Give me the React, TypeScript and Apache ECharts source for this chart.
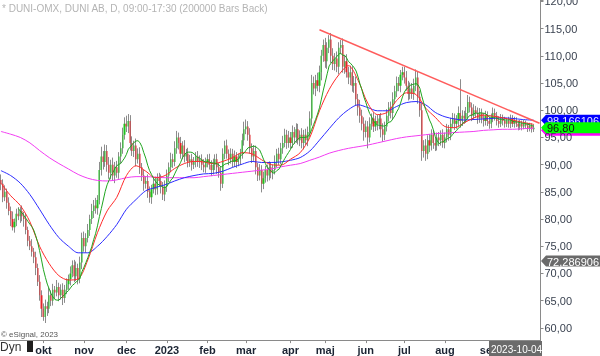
import React, { useEffect, useRef } from "react";
import * as echarts from "echarts";

// ---- daily closes per month ----
const sep22 = [86.5, 84, 85, 83, 81.5, 80, 78.5, 79.5, 81, 80.5, 81.5, 80.5, 80, 78, 76, 75, 74, 73, 71, 68.5, 66, 63.5];
const okt22 = [62, 64, 63.5, 66, 65, 67, 66.5, 67.5, 66, 67, 65.5, 67, 68, 69, 70, 71.5, 69.5, 71, 69, 72, 76.5];
const nov22 = [75, 76.5, 78, 80, 81.5, 82.5, 82, 83.5, 89, 91.5, 90.5, 92.5, 90, 88.5, 90, 88, 89.5, 88.5, 91.5, 93, 95.5, 97.5];
const dec22 = [97, 98, 94, 92.5, 93.5, 91, 92, 89.5, 88, 86.5, 87, 85, 84, 85.5, 86.5, 85.5, 87.5, 87, 86, 84.5, 86];
const jan23 = [88, 89.5, 91, 90.5, 93, 95, 94, 92, 93.5, 91.5, 92, 90.5, 91, 90, 90.5, 91.5, 90.5, 91, 90, 89.5, 90.5];
const feb23 = [91, 90, 89, 90, 91, 89.5, 88.5, 86.5, 92, 93.5, 92, 91, 92, 90.5, 91.5, 90.5, 91, 92, 94.5, 96.5];
const mar23 = [97, 95.5, 93, 91.5, 92.5, 89.5, 88, 89, 86.5, 87.5, 89, 88, 89.5, 88.5, 89, 90.5, 92, 91, 93, 94, 95.5, 94, 95];
const apr23 = [94, 96, 95, 96.5, 94.5, 95.5, 94, 95.5, 94.5, 96, 98.5, 105, 104, 105.5, 104.5, 107, 110, 112];
const maj23 = [109, 111.5, 113, 110, 108.5, 109.5, 108, 111.5, 112, 108, 109, 107, 106, 107, 104.5, 105, 102, 100.5, 99, 97.5, 96];
const jun23 = [97, 95, 97.5, 98.5, 97, 98, 97.5, 98.5, 96.5, 95.5, 97, 99, 100.5, 99.5, 102, 103.5, 105, 104.5, 106.5, 107];
const jul23 = [106, 104.5, 103, 104, 103, 104.5, 106, 102.5, 100, 92.5, 93.5, 92, 94.5, 93.5, 95.5, 94, 93.5, 95, 94.5, 95.5, 94];
const aug23 = [95, 96.5, 95.5, 97.5, 98.5, 97.5, 98, 99.5, 98, 99, 98.5, 99.5, 101.5, 100.5, 99, 100, 99.5, 98.5, 99.5, 98.5, 98, 99, 98];
const sep23 = [97.5, 98.5, 99.5, 99, 98, 97.5, 98.5, 98, 97.5, 98, 97.5, 98.5, 97.5, 98, 97.5, 97, 97.5, 97, 97.5, 97.2, 96.6];
const okt23 = [97.1, 96.5, 96.8];
const firstOpen = 87.2;

// ---- wick lengths above / below body ----
const upSep22 = [1.0, 0.8, 1.2, 0.6, 1.0, 0.8, 1.4, 0.6, 0.9, 1.2, 0.7, 1.0, 0.8, 1.1, 0.6, 0.9, 1.3, 0.7, 1.0, 0.8, 1.2, 0.9];
const dnSep22 = [1.2, 0.9, 0.7, 1.1, 0.8, 1.3, 0.6, 1.0, 0.8, 0.7, 1.2, 0.9, 1.4, 0.8, 1.0, 0.7, 0.9, 1.1, 1.3, 0.8, 1.0, 1.5];
const upOkt22 = [1.0, 1.2, 0.8, 1.4, 0.9, 1.1, 0.7, 1.3, 0.8, 1.0, 1.2, 0.9, 1.1, 0.8, 1.3, 0.9, 1.0, 1.2, 0.8, 1.1, 1.0];
const dnOkt22 = [0.7, 1.1, 1.3, 0.8, 1.0, 0.9, 1.2, 0.7, 1.1, 0.8, 1.3, 0.9, 0.8, 1.0, 1.2, 0.7, 1.1, 0.9, 1.0, 0.8, 1.2];
const upNov22 = [1.2, 0.9, 1.1, 0.8, 1.3, 1.0, 1.4, 0.9, 1.5, 1.8, 1.0, 1.2, 1.1, 1.4, 0.9, 1.3, 1.0, 1.2, 0.8, 1.1, 1.3, 1.2];
const dnNov22 = [1.0, 1.2, 0.8, 1.1, 0.9, 1.3, 1.0, 1.2, 0.8, 1.0, 1.4, 0.9, 1.3, 1.1, 1.2, 1.0, 1.4, 0.9, 1.1, 1.3, 1.0, 0.9];
const upDec22 = [1.5, 1.3, 1.1, 1.2, 0.9, 1.3, 1.0, 1.2, 0.8, 1.1, 0.9, 1.2, 1.0, 0.8, 1.1, 1.3, 0.9, 1.0, 1.2, 0.8, 1.1];
const dnDec22 = [1.0, 1.2, 1.4, 0.9, 1.1, 1.3, 0.8, 1.2, 1.0, 1.3, 0.9, 1.1, 1.0, 1.2, 0.8, 1.1, 1.0, 0.9, 1.3, 1.0, 1.2];
const upJan23 = [1.1, 0.9, 1.2, 1.0, 1.3, 1.2, 0.9, 1.1, 0.8, 1.0, 0.9, 1.1, 0.8, 1.0, 0.9, 0.8, 1.0, 0.7, 0.9, 1.0, 0.8];
const dnJan23 = [1.0, 1.2, 0.9, 1.1, 0.8, 1.0, 1.2, 0.9, 1.0, 1.1, 0.8, 1.0, 0.9, 1.1, 0.8, 1.0, 0.9, 1.1, 1.0, 0.9, 1.0];
const upFeb23 = [0.9, 1.0, 0.8, 1.1, 0.9, 1.0, 0.8, 1.2, 1.0, 0.9, 1.1, 0.8, 1.0, 0.9, 1.1, 0.8, 1.0, 0.9, 1.2, 1.4];
const dnFeb23 = [1.0, 0.9, 1.1, 0.8, 1.0, 1.2, 0.9, 1.3, 0.8, 1.0, 0.9, 1.1, 0.8, 1.0, 0.9, 1.1, 0.8, 1.0, 0.9, 1.0];
const upMar23 = [1.3, 1.0, 1.2, 0.9, 1.1, 1.0, 0.8, 1.1, 0.9, 1.2, 0.8, 1.0, 1.1, 0.9, 1.0, 1.2, 0.9, 1.1, 1.0, 1.3, 1.1, 0.9, 1.2];
const dnMar23 = [0.9, 1.1, 1.0, 1.2, 0.8, 1.3, 1.0, 0.9, 1.6, 1.0, 0.8, 1.1, 0.9, 1.0, 1.2, 0.8, 1.0, 1.1, 0.9, 1.0, 0.8, 1.1, 0.9];
const upApr23 = [1.0, 1.2, 0.9, 1.1, 1.0, 0.8, 1.2, 0.9, 1.1, 1.0, 1.3, 1.5, 1.2, 1.0, 1.4, 1.2, 1.1, 1.0];
const dnApr23 = [1.1, 0.9, 1.2, 1.0, 0.8, 1.1, 1.0, 1.2, 0.9, 1.1, 1.0, 1.3, 1.1, 1.4, 1.0, 1.2, 1.5, 1.1];
const upMaj23 = [1.3, 1.0, 0.8, 1.2, 1.4, 1.0, 1.3, 1.0, 0.9, 1.2, 1.1, 1.3, 1.0, 1.2, 1.1, 1.3, 1.2, 1.0, 1.4, 1.1, 1.2];
const dnMaj23 = [1.2, 1.4, 1.0, 1.3, 1.1, 1.2, 1.0, 1.4, 1.2, 1.1, 1.3, 1.0, 1.2, 1.4, 1.1, 1.3, 1.2, 1.5, 1.3, 1.2, 1.6];
const upJun23 = [1.1, 1.0, 1.2, 0.9, 1.1, 1.0, 1.2, 0.8, 1.0, 1.1, 0.9, 1.2, 1.0, 1.1, 1.3, 1.0, 1.2, 1.1, 0.9, 1.0];
const dnJun23 = [1.0, 2.0, 0.9, 1.1, 1.0, 0.8, 1.2, 1.0, 1.5, 1.3, 1.0, 0.9, 1.1, 1.0, 1.2, 0.9, 1.1, 1.0, 1.2, 1.0];
const upJul23 = [1.0, 1.2, 0.9, 1.1, 1.0, 1.3, 1.5, 1.2, 1.1, 1.3, 1.0, 1.2, 0.9, 1.1, 1.0, 0.8, 1.1, 0.9, 1.0, 0.8, 1.0];
const dnJul23 = [1.1, 0.9, 1.2, 1.0, 0.9, 1.1, 1.0, 1.3, 1.2, 1.8, 1.2, 1.3, 1.0, 1.2, 0.9, 1.1, 1.0, 0.9, 1.1, 1.0, 0.9];
const upAug23 = [0.9, 1.0, 0.8, 1.1, 1.0, 0.9, 1.1, 1.2, 6.2, 1.0, 0.9, 1.1, 1.3, 1.0, 0.9, 1.1, 0.8, 1.0, 0.9, 0.8, 1.0, 0.9, 0.8];
const dnAug23 = [1.0, 0.9, 1.1, 1.0, 0.8, 1.1, 0.9, 1.0, 1.2, 0.9, 1.0, 0.8, 1.1, 0.9, 1.0, 0.8, 0.9, 1.0, 0.8, 0.9, 1.0, 0.8, 0.9];
const upSep23 = [0.8, 0.9, 1.0, 0.8, 0.7, 0.9, 0.8, 0.7, 0.8, 0.6, 0.8, 0.7, 0.6, 0.8, 0.7, 0.6, 0.7, 0.6, 0.7, 0.6, 0.5];
const dnSep23 = [0.9, 0.8, 0.7, 0.9, 0.8, 0.7, 0.6, 0.8, 0.7, 0.6, 0.7, 0.8, 0.6, 0.7, 0.6, 0.7, 0.6, 0.7, 0.5, 0.6, 0.6];
const upOkt23 = [0.6, 0.5, 0.6];
const dnOkt23 = [0.5, 0.6, 0.5];

// ---- moving averages read every 5th bar (last point = last bar) ----
const ma200 = [96.1, 95.6, 95.0, 94.0, 92.6, 91.3, 90.2, 89.2, 88.2, 87.5, 87.1, 87.0, 87.2, 87.6, 87.8, 87.8, 87.7, 87.6, 87.6, 87.6, 87.6, 87.8, 88.0, 88.2, 88.4, 88.6, 88.8, 89.0, 89.2, 89.6, 89.9, 90.2, 90.8, 91.4, 92.1, 92.6, 93.0, 93.3, 93.6, 94.0, 94.4, 94.8, 95.1, 95.3, 95.5, 95.7, 95.8, 95.9, 96.0, 96.1, 96.3, 96.4, 96.5, 96.5, 96.6, 96.7];
const ma50 = [88.9, 88.0, 86.6, 84.5, 81.8, 79.0, 76.6, 75.0, 73.8, 73.8, 75.0, 76.8, 79.0, 81.8, 83.6, 85.2, 85.8, 86.3, 87.0, 87.6, 88.0, 88.3, 88.4, 88.8, 89.5, 90.1, 90.6, 90.4, 90.4, 90.5, 90.8, 91.3, 92.5, 94.5, 96.6, 98.6, 100.1, 101.0, 100.5, 99.9, 99.9, 100.7, 101.4, 101.6, 101.0, 99.6, 98.8, 98.4, 98.2, 98.3, 98.4, 98.5, 98.6, 98.5, 98.3, 98.17];
const ma20 = [86.6, 84.3, 82.5, 79.5, 75.0, 71.8, 69.6, 68.8, 69.0, 72.5, 77.5, 81.5, 84.0, 88.0, 89.8, 88.8, 87.6, 88.0, 89.3, 90.2, 90.6, 90.5, 90.2, 90.6, 91.3, 92.2, 92.0, 90.9, 90.0, 89.9, 91.0, 92.2, 95.0, 99.9, 103.8, 106.5, 108.2, 105.5, 101.3, 99.2, 99.6, 101.8, 103.2, 102.9, 100.4, 98.7, 97.0, 96.8, 97.7, 98.6, 99.1, 98.9, 98.6, 98.2, 97.8, 97.4];

// ---- trend line [bar index, price] ----
const trendFrom = [165, 114.8];
const trendTo = [279, 97.6];

// ---- right-hand price tags ----
const tagBlue = 98.166106;
const tagClose = 96.8;
const tagMagenta = 96.3;
const tagGrey = 72.286906;

const holidays = ["2022-12-26", "2023-01-06", "2023-04-07", "2023-04-10", "2023-05-01", "2023-05-18", "2023-06-06", "2023-06-23"];
const monthNames = ["jan", "feb", "mar", "apr", "maj", "jun", "jul", "aug", "sep", "okt", "nov", "dec"];

const closes = [...sep22, ...okt22, ...nov22, ...dec22, ...jan23, ...feb23, ...mar23, ...apr23, ...maj23, ...jun23, ...jul23, ...aug23, ...sep23, ...okt23];
const wickUp = [...upSep22, ...upOkt22, ...upNov22, ...upDec22, ...upJan23, ...upFeb23, ...upMar23, ...upApr23, ...upMaj23, ...upJun23, ...upJul23, ...upAug23, ...upSep23, ...upOkt23];
const wickDn = [...dnSep22, ...dnOkt22, ...dnNov22, ...dnDec22, ...dnJan23, ...dnFeb23, ...dnMar23, ...dnApr23, ...dnMaj23, ...dnJun23, ...dnJul23, ...dnAug23, ...dnSep23, ...dnOkt23];

function buildDates(): string[] {
  const out: string[] = [];
  const d = new Date(Date.UTC(2022, 8, 1));
  const end = Date.UTC(2023, 9, 9);
  while (d.getTime() <= end) {
    const wd = d.getUTCDay();
    const s = d.toISOString().slice(0, 10);
    if (wd !== 0 && wd !== 6 && !holidays.includes(s)) out.push(s);
    d.setUTCDate(d.getUTCDate() + 1);
  }
  return out;
}

export default function App() {
  const ref = useRef<HTMLDivElement>(null);
  useEffect(() => {
    const chart = echarts.init(ref.current!, undefined, { renderer: "svg" });
    const dates = buildDates();
    const monthStart = new Set<number>();
    for (let i = 1; i < dates.length; i++) {
      if (dates[i].slice(5, 7) !== dates[i - 1].slice(5, 7)) monthStart.add(i);
    }
    const candles = closes.map((c, i) => {
      const o = i === 0 ? firstOpen : closes[i - 1];
      return [o, c, Math.min(o, c) - wickDn[i], Math.max(o, c) + wickUp[i]];
    });
    const maIdx: number[] = [];
    for (let i = 0; i <= 270; i += 5) maIdx.push(i);
    maIdx.push(closes.length - 1);
    const toPairs = (arr: number[]) => arr.map((v, k) => [maIdx[k], v]);
    const ma10: number[][] = [];
    for (let i = 9; i < closes.length; i++) {
      let s = 0;
      for (let j = i - 9; j <= i; j++) s += closes[j];
      ma10.push([i, +(s / 10).toFixed(3)]);
    }
    const font = "Liberation Sans, Arial, sans-serif";
    const option: any = {
      animation: false,
      textStyle: { fontFamily: font },
      grid: { left: 0, right: 59.5, top: 0, bottom: 0.9, containLabel: false, outerBoundsMode: "none" },
      xAxis: {
        type: "category",
        data: dates,
        boundaryGap: true,
        offset: -15,
        axisLine: { lineStyle: { color: "#8a8a8a", width: 1 } },
        axisTick: {
          show: true,
          alignWithLabel: true,
          length: 3,
          interval: (i: number) => monthStart.has(i),
          lineStyle: { color: "#8a8a8a" },
        },
        axisLabel: {
          interval: (i: number) => monthStart.has(i),
          formatter: (v: string) => {
            const m = parseInt(v.slice(5, 7), 10) - 1;
            return m === 0 ? v.slice(0, 4) : monthNames[m];
          },
          color: "#1b2433",
          fontWeight: "bold",
          fontSize: 11,
          fontFamily: font,
          margin: 4,
        },
        splitLine: { show: false },
      },
      yAxis: {
        type: "value",
        position: "right",
        min: 55,
        max: 120.26,
        interval: 5,
        axisLine: { show: true, lineStyle: { color: "#8a8a8a", width: 1 } },
        axisTick: { show: true, length: 3, lineStyle: { color: "#8a8a8a" } },
        axisLabel: {
          margin: 4,
          fontSize: 11,
          fontFamily: font,
          color: "#3a4250",
          showMinLabel: false,
          formatter: (v: number) =>
            v <= 55 || Math.abs(v / 5 - Math.round(v / 5)) > 1e-6 ? "" : v.toFixed(2).replace(".", ","),
        },
        splitLine: { show: false },
      },
      series: [
        {
          type: "candlestick",
          data: candles,
          barWidth: 1,
          silent: true,
          itemStyle: { color: "#8c8c8c", color0: "#8c8c8c", borderColor: "#8c8c8c", borderColor0: "#8c8c8c", borderWidth: 1 },
        },
        {
          type: "candlestick",
          data: candles,
          barWidth: 1.6,
          silent: true,
          itemStyle: { color: "#1ec21e", color0: "#e3262a", borderColor: "#1ec21e", borderColor0: "#e3262a", borderWidth: 0 },
        },
        {
          type: "line",
          data: toPairs(ma200),
          smooth: 0.3,
          showSymbol: false,
          silent: true,
          lineStyle: { color: "#f23cf2", width: 1 },
          markLine: {
            silent: true,
            symbol: ["none", "none"],
            label: { show: false },
            lineStyle: { color: "#ff5c5c", width: 1.5, type: "solid" },
            data: [[{ coord: [dates[trendFrom[0]], trendFrom[1]] }, { coord: [dates[trendTo[0]], trendTo[1]] }]],
          },
        },
        { type: "line", data: toPairs(ma50), smooth: 0.3, showSymbol: false, silent: true, lineStyle: { color: "#2a2aff", width: 1 } },
        { type: "line", data: toPairs(ma20), smooth: 0.3, showSymbol: false, silent: true, lineStyle: { color: "#ff2a2a", width: 1 } },
        { type: "line", data: ma10, showSymbol: false, silent: true, lineStyle: { color: "#1fa51f", width: 1 } },
      ],
    };
    chart.setOption(option);

    const py = (v: number) => chart.convertToPixel({ yAxisIndex: 0 }, v) as number;
    const tag = (v: number, text: string, fill: string, textColor: string, h: number) => {
      const y = py(v);
      return {
        type: "group",
        z: 200,
        children: [
          {
            type: "polygon",
            shape: { points: [[541, y], [546, y - h / 2], [600, y - h / 2], [600, y + h / 2], [546, y + h / 2]] },
            style: { fill },
          },
          {
            type: "text",
            x: 547,
            y: y + 0.5,
            style: { text, fill: textColor, font: `11px ${font}`, verticalAlign: "middle" },
          },
        ],
      };
    };
    const lastDate = dates[closes.length - 1];
    chart.setOption({
      graphic: {
        elements: [
          {
            type: "text",
            x: 2,
            y: 8,
            z: 200,
            style: { text: "* DUNI-OMX, DUNI AB, D, 09:00-17:30 (200000 Bars Back)", fill: "#b4b4b4", font: `10px ${font}`, verticalAlign: "middle" },
          },
          {
            type: "text",
            x: 1,
            y: 334,
            z: 200,
            style: { text: "© eSignal, 2023", fill: "#555", font: `8px ${font}`, verticalAlign: "middle" },
          },
          {
            type: "text",
            x: 0,
            y: 347,
            z: 200,
            style: { text: "Dyn", fill: "#333", font: `12px ${font}`, verticalAlign: "middle" },
          },
          { type: "rect", z: 200, shape: { x: 27, y: 341, width: 6, height: 11 }, style: { fill: "#1e1e1e" } },
          tag(tagMagenta, "", "#ff00ff", "#fff", 11),
          tag(tagBlue, "98,166106", "#0000ff", "#e6e6ff", 11),
          tag(tagClose, tagClose.toFixed(2).replace(".", ","), "#00ff00", "#111", 11),
          tag(tagGrey, "72,286906", "#6a6a6a", "#ffffff", 11),
          { type: "rect", z: 200, shape: { x: 489, y: 341, width: 53, height: 15 }, style: { fill: "#6b6b6b" } },
          {
            type: "text",
            x: 491,
            y: 349,
            z: 201,
            style: { text: lastDate, fill: "#ffffff", font: `10px ${font}`, verticalAlign: "middle" },
          },
        ],
      },
    });
    return () => chart.dispose();
  }, []);
  return <div ref={ref} style={{ position: "fixed", left: 0, top: 0, width: 600, height: 356 }} />;
}
